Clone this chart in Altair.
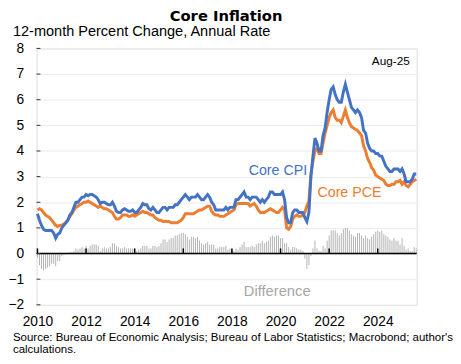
import altair as alt
import pandas as pd

FONT = "Liberation Sans"

# Monthly data, Jan 2010 .. Aug 2025 (12-month % change)
core_cpi = [
    1.55, 1.3, 1.1, 0.95, 0.9, 0.9, 0.9, 0.9, 0.8, 0.6, 0.75, 0.8,      # 2010
    1.0, 1.1, 1.2, 1.3, 1.5, 1.6, 1.8, 2.0, 2.0, 2.1, 2.2, 2.2,         # 2011
    2.3, 2.25, 2.3, 2.3, 2.25, 2.2, 2.1, 1.95, 2.0, 2.0, 1.95, 1.9,     # 2012
    1.9, 2.0, 1.85, 1.65, 1.6, 1.6, 1.7, 1.75, 1.7, 1.65, 1.65, 1.7,    # 2013
    1.6, 1.6, 1.7, 1.8, 1.95, 1.9, 1.9, 1.75, 1.7, 1.8, 1.7, 1.6,       # 2014
    1.6, 1.7, 1.8, 1.8, 1.7, 1.8, 1.8, 1.8, 1.9, 1.9, 2.0, 2.1,         # 2015
    2.2, 2.3, 2.2, 2.1, 2.2, 2.2, 2.2, 2.3, 2.2, 2.1, 2.1, 2.2,         # 2016
    2.3, 2.2, 2.0, 1.9, 1.7, 1.7, 1.7, 1.7, 1.7, 1.8, 1.7, 1.8,         # 2017
    1.8, 1.8, 2.1, 2.1, 2.2, 2.3, 2.4, 2.2, 2.2, 2.1, 2.2, 2.2,         # 2018
    2.2, 2.1, 2.0, 2.1, 2.0, 2.1, 2.2, 2.4, 2.4, 2.3, 2.3, 2.3,         # 2019
    2.3, 2.4, 2.1, 1.4, 1.2, 1.2, 1.6, 1.7, 1.7, 1.6, 1.6, 1.6,         # 2020
    1.4, 1.25, 1.6, 3.0, 3.8, 4.5, 4.3, 4.0, 4.0, 4.6, 4.9, 5.5,        # 2021
    6.0, 6.4, 6.5, 6.2, 6.0, 5.9, 5.9, 6.3, 6.6, 6.3, 6.0, 5.7,         # 2022
    5.6, 5.5, 5.6, 5.5, 5.3, 4.8, 4.7, 4.3, 4.1, 4.0, 4.0, 3.9,         # 2023
    3.9, 3.8, 3.8, 3.6, 3.4, 3.3, 3.2, 3.2, 3.3, 3.3, 3.3, 3.2,         # 2024
    3.3, 3.1, 2.8, 2.8, 2.8, 2.9, 3.1, 3.1,                             # 2025
]
core_pce = [
    1.7, 1.75, 1.7, 1.6, 1.5, 1.45, 1.4, 1.3, 1.2, 1.1, 1.05, 1.1,      # 2010
    1.1, 1.15, 1.2, 1.3, 1.45, 1.55, 1.7, 1.8, 1.85, 1.9, 1.95, 2.0,    # 2011
    2.0, 2.05, 2.0, 1.95, 1.9, 1.85, 1.8, 1.85, 1.8, 1.75, 1.75, 1.7,   # 2012
    1.65, 1.6, 1.45, 1.35, 1.35, 1.4, 1.5, 1.5, 1.5, 1.45, 1.45, 1.5,   # 2013
    1.45, 1.5, 1.55, 1.6, 1.65, 1.6, 1.6, 1.55, 1.5, 1.5, 1.4, 1.35,    # 2014
    1.3, 1.3, 1.25, 1.25, 1.25, 1.25, 1.2, 1.2, 1.2, 1.2, 1.25, 1.3,    # 2015
    1.4, 1.55, 1.55, 1.55, 1.55, 1.55, 1.6, 1.65, 1.7, 1.7, 1.75, 1.8,  # 2016
    1.85, 1.85, 1.65, 1.55, 1.5, 1.5, 1.45, 1.45, 1.45, 1.5, 1.55, 1.6, # 2017
    1.65, 1.7, 1.9, 1.95, 1.95, 1.95, 1.95, 1.95, 1.95, 1.85, 1.9, 1.95,# 2018
    1.85, 1.7, 1.6, 1.6, 1.6, 1.65, 1.7, 1.75, 1.7, 1.65, 1.6, 1.6,     # 2019
    1.7, 1.8, 1.7, 1.0, 0.95, 1.05, 1.35, 1.45, 1.5, 1.45, 1.45, 1.5,   # 2020
    1.6, 1.85, 2.05, 3.1, 3.6, 4.0, 4.1, 3.9, 3.9, 4.3, 4.7, 5.0,       # 2021
    5.3, 5.5, 5.6, 5.3, 5.2, 5.2, 5.1, 5.35, 5.6, 5.3, 5.1, 4.95,       # 2022
    4.9, 4.85, 4.8, 4.7, 4.6, 4.2, 4.0, 3.7, 3.55, 3.35, 3.25, 3.05,    # 2023
    3.0, 2.95, 2.9, 2.85, 2.7, 2.65, 2.65, 2.7, 2.7, 2.8, 2.8, 2.85,    # 2024
    2.7, 2.8, 2.65, 2.6, 2.7, 2.8, 2.85, 2.9,                           # 2025
]
start_year = 2010
x_tick_years = [2010, 2012, 2014, 2016, 2018, 2020, 2022, 2024]
y_ticks = [-2, -1, 0, 1, 2, 3, 4, 5, 6, 7, 8]

df = pd.DataFrame({
    "t": [start_year + i / 12 for i in range(len(core_cpi))],
    "cpi": core_cpi,
    "pce": core_pce,
})
df["diff"] = df["cpi"] - df["pce"]

W, H = 387, 261
x_scale = alt.Scale(domain=[2009.96, 2025.6], nice=False, zero=False)
y_scale = alt.Scale(domain=[-2, 8], nice=False, zero=False)

x_axis = alt.Axis(values=x_tick_years, format="d", ticks=False, tickSize=0, domain=False,
                  grid=False, labelFontSize=14, labelPadding=10, labelColor="black",
                  labelFont=FONT, labelFlush=False, labelOverlap=False, title=None)
y_axis = alt.Axis(values=y_ticks, format="d", ticks=False, tickSize=0, domain=False, grid=True,
                  gridColor="#ebebeb", gridWidth=1, labelFontSize=14, labelPadding=13,
                  labelColor="black", labelFont=FONT, labelOverlap=False,
                  labelFlush=False, title=None)


def X(field):
    return alt.X(field, scale=x_scale, axis=x_axis)


def Y(field):
    return alt.Y(field, scale=y_scale, axis=y_axis)


base = alt.Chart(df)

diff_bars = base.mark_rule(color="#b3b3b3", strokeWidth=1).encode(
    x=X("t:Q"), y=Y("diff:Q"), y2=alt.datum(0)
)

zero_line = alt.Chart(pd.DataFrame({"z": [0]})).mark_rule(
    color="black", strokeWidth=1.5
).encode(y=Y("z:Q"))

x_ticks = alt.Chart(pd.DataFrame({"yr": x_tick_years, "z": [0] * len(x_tick_years),
                                  "top": [0.2] * len(x_tick_years)})).mark_rule(
    color="black", strokeWidth=1.5
).encode(x=X("yr:Q"), y=Y("z:Q"), y2="top:Q")

y_tick_marks = alt.Chart(pd.DataFrame({"v": y_ticks})).mark_rule(
    color="#333333", strokeWidth=1
).encode(y=Y("v:Q"), x=alt.value(0), x2=alt.value(4))

pce_line = base.mark_line(color="#ED7D31", strokeWidth=3).encode(x=X("t:Q"), y=Y("pce:Q"))
cpi_line = base.mark_line(color="#4472C4", strokeWidth=3).encode(x=X("t:Q"), y=Y("cpi:Q"))


def label(text, x, y, size, color="black", align="left", weight="normal", font=FONT):
    return alt.Chart(pd.DataFrame({"s": [text]})).mark_text(
        align=align, baseline="alphabetic", font=font, fontSize=size,
        color=color, fontWeight=weight
    ).encode(text="s:N", x=alt.value(x), y=alt.value(y))


texts = [
    label("Core Inflation", 193, -27.5, 15, weight="bold", align="center", font="DejaVu Sans"),
    label("12-month Percent Change, Annual Rate", -24, -12.5, 14.8),
    label("Aug-25", 380, 16.7, 12, align="right"),
    label("Core CPI", 216, 129, 14.5, color="#4472C4"),
    label("Core PCE", 286, 151, 14.5, color="#ED7D31"),
    label("Difference", 211, 252.5, 15, color="#a6a6a6"),
    label("Source: Bureau of Economic Analysis; Bureau of Labor Statistics; Macrobond; author's",
          -24, 297.5, 11.7),
    label("calculations.", -24, 310.5, 11.7),
]

chart = alt.layer(
    diff_bars, zero_line, x_ticks, y_tick_marks, pce_line, cpi_line, *texts
).properties(
    width=W, height=H,
    autosize=alt.AutoSizeParams(type="none"),
    padding={"left": 29, "top": 38, "right": 37, "bottom": 51},
).configure_view(
    stroke="#555555", strokeWidth=1.5
).configure(
    font=FONT
)

chart.save("out.html", embed_options={"renderer": "svg", "actions": False})
